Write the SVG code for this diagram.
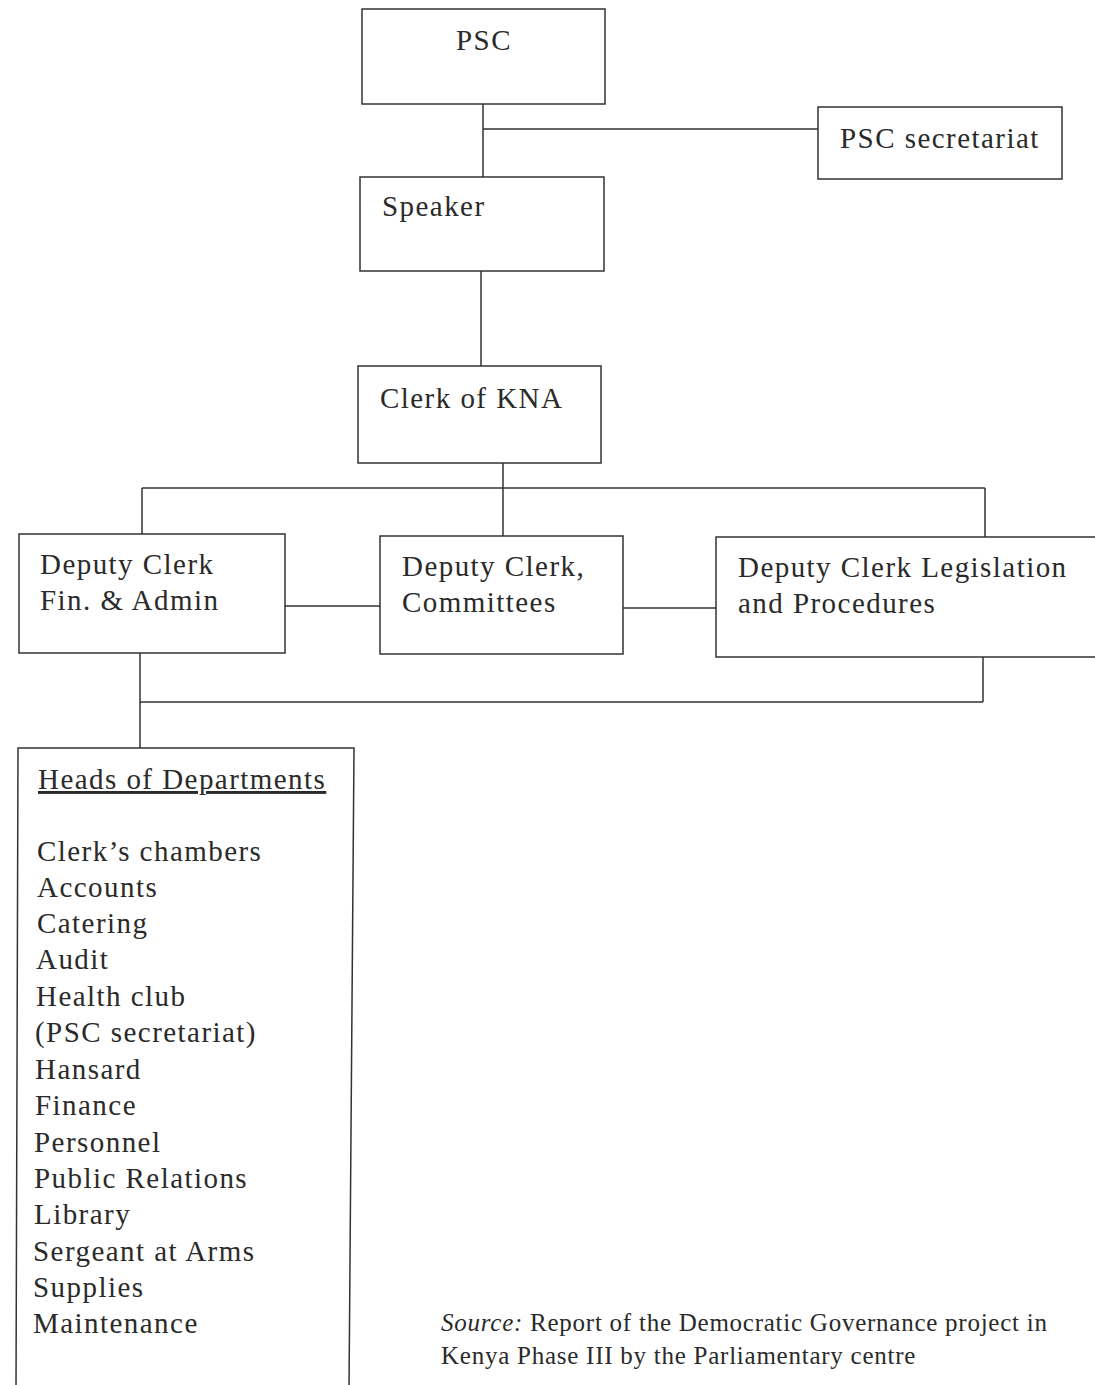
<svg xmlns="http://www.w3.org/2000/svg" width="1095" height="1385" viewBox="0 0 1095 1385">
<style>
.box{fill:#fff;stroke:#333;stroke-width:1.5}
.ln{fill:none;stroke:#333;stroke-width:1.5}
.t{font-family:"Liberation Serif","Times New Roman",serif;font-size:29px;letter-spacing:1.45px;fill:#2a2a2a}
.s{font-family:"Liberation Serif","Times New Roman",serif;font-size:25px;letter-spacing:0.75px;fill:#2a2a2a}
</style>
<rect width="1095" height="1385" fill="#fff"/>
<g id="connectors">
<path class="ln" d="M483,104 V177 M483,129 H818"/>
<path class="ln" d="M481,271 V366"/>
<path class="ln" d="M503,463 V536 M142,488 H985 M142,488 V534 M985,488 V537"/>
<path class="ln" d="M285,606 H380 M623,608 H716"/>
<path class="ln" d="M140,653 V748 M140,702 H983 M983,657 V702"/>
</g>
<g id="psc"><rect class="box" x="362" y="9" width="243" height="95"/><text class="t" x="484" y="50" text-anchor="middle">PSC</text></g>
<g id="psc-secretariat"><rect class="box" x="818" y="107" width="244" height="72"/><text class="t" x="840" y="148">PSC secretariat</text></g>
<g id="speaker"><rect class="box" x="360" y="177" width="244" height="94"/><text class="t" x="382" y="216">Speaker</text></g>
<g id="clerk"><rect class="box" x="358" y="366" width="243" height="97"/><text class="t" x="380" y="408">Clerk of KNA</text></g>
<g id="dc-fin"><rect class="box" x="19" y="534" width="266" height="119"/><text class="t" x="40" y="574">Deputy Clerk</text><text class="t" x="40" y="610">Fin. &amp; Admin</text></g>
<g id="dc-comm"><rect class="box" x="380" y="536" width="243" height="118"/><text class="t" x="402" y="576">Deputy Clerk,</text><text class="t" x="402" y="612">Committees</text></g>
<g id="dc-leg"><path class="box" d="M1100,537 H716 V657 H1100"/><text class="t" x="738" y="577">Deputy Clerk Legislation</text><text class="t" x="738" y="613">and Procedures</text></g>
<g id="heads"><path class="box" d="M16,1390 L18,748 H354 L349,1390"/>
<text class="t" x="38" y="789" text-decoration="underline">Heads of Departments</text>
<text class="t" x="37" y="861">Clerk’s chambers</text>
<text class="t" x="37" y="897">Accounts</text>
<text class="t" x="37" y="933">Catering</text>
<text class="t" x="36" y="969">Audit</text>
<text class="t" x="36" y="1006">Health club</text>
<text class="t" x="35" y="1042">(PSC secretariat)</text>
<text class="t" x="35" y="1079">Hansard</text>
<text class="t" x="35" y="1115">Finance</text>
<text class="t" x="34" y="1152">Personnel</text>
<text class="t" x="34" y="1188">Public Relations</text>
<text class="t" x="34" y="1224">Library</text>
<text class="t" x="33" y="1261">Sergeant at Arms</text>
<text class="t" x="33" y="1297">Supplies</text>
<text class="t" x="33" y="1333">Maintenance</text>
</g>
<g id="source"><text class="s" x="441" y="1331"><tspan font-style="italic">Source:</tspan> Report of the Democratic Governance project in</text><text class="s" x="441" y="1364">Kenya Phase III by the Parliamentary centre</text></g>
</svg>
